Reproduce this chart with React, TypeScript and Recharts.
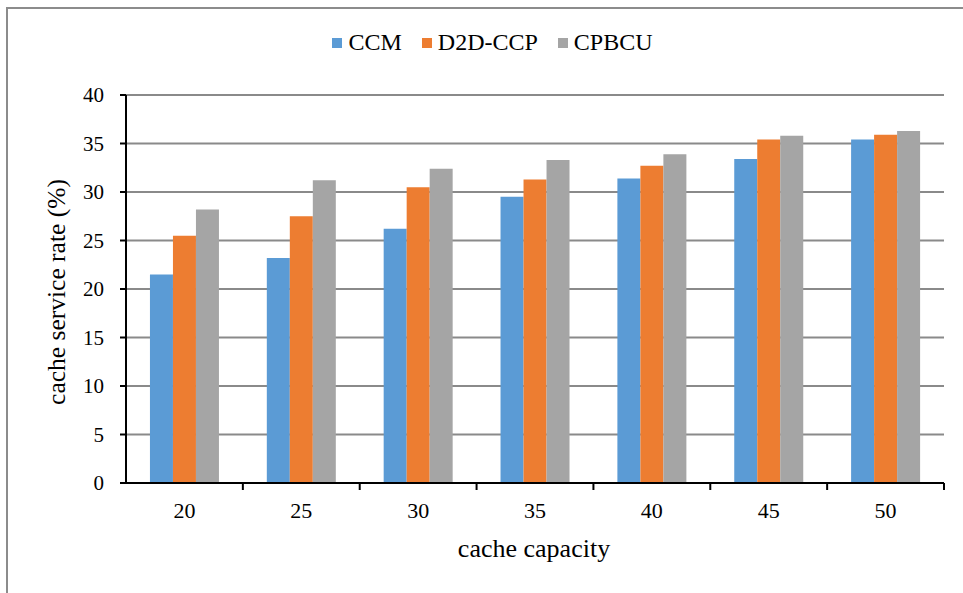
import React from "react";
import { BarChart, Bar, XAxis, YAxis, CartesianGrid, Legend } from "recharts";

const capacities = ["20", "25", "30", "35", "40", "45", "50"];
const ccm = [21.5, 23.2, 26.2, 29.5, 31.4, 33.4, 35.4];
const d2dccp = [25.5, 27.5, 30.5, 31.3, 32.7, 35.4, 35.9];
const cpbcu = [28.2, 31.2, 32.4, 33.3, 33.9, 35.8, 36.3];
const yTicks = [0, 5, 10, 15, 20, 25, 30, 35, 40];

const seriesNames = ["CCM", "D2D-CCP", "CPBCU"];
const colors = ["#5B9BD5", "#ED7D31", "#A5A5A5"];

const data = capacities.map((c, i) => ({
  cap: c,
  CCM: ccm[i],
  "D2D-CCP": d2dccp[i],
  CPBCU: cpbcu[i],
}));

const W = 963;
const H = 593;
const M = { top: 70, right: 19, bottom: 50, left: 66 };
const Y_W = 60;
const X_H = 60;
const FONT = "'Liberation Serif', 'Times New Roman', serif";
const plotW = W - M.left - Y_W - M.right;
const half = plotW / capacities.length / 2;
const axisY = H - M.bottom - X_H;

const XTick = (props: any) => {
  const { x, index, payload } = props;
  const last = index === capacities.length - 1;
  return (
    <g>
      {index > 0 && (
        <line x1={x - half} x2={x - half} y1={axisY} y2={axisY + 7} stroke="#000" strokeWidth={2} />
      )}
      {last && (
        <line x1={x + half} x2={x + half} y1={axisY} y2={axisY + 7} stroke="#000" strokeWidth={2} />
      )}
      <text x={x} y={axisY + 35} textAnchor="middle" fontSize={22} fontFamily={FONT} fill="#000">
        {payload.value}
      </text>
    </g>
  );
};

const YTick = (props: any) => {
  const { y, payload } = props;
  return (
    <text x={104} y={y} dy={7} textAnchor="end" fontSize={21} fontFamily={FONT} fill="#000">
      {payload.value}
    </text>
  );
};

const LegendContent = () => (
  <div
    style={{
      display: "flex",
      justifyContent: "center",
      alignItems: "center",
      paddingLeft: 22,
      fontFamily: FONT,
      fontSize: 24,
      lineHeight: "25px",
      color: "#000",
    }}
  >
    {seriesNames.map((n, i) => (
      <div key={n} style={{ display: "flex", alignItems: "center", marginRight: i < 2 ? 20 : 0 }}>
        <span style={{ width: 10, height: 10, background: colors[i], display: "inline-block", marginRight: 6 }} />
        <span>{n}</span>
      </div>
    ))}
  </div>
);

export default function App() {
  return (
    <div style={{ position: "absolute", left: 0, top: 0, width: W, height: H, background: "#fff" }}>
      <div style={{ position: "absolute", left: 6, top: 7, width: 2, height: H - 7, background: "#8c8c8c" }} />
      <div style={{ position: "absolute", left: 6, top: 7, width: W - 6, height: 2, background: "#8c8c8c" }} />
      <BarChart
        width={W}
        height={H}
        data={data}
        margin={M}
        barCategoryGap="20.5%"
        barGap={0}
        style={{ position: "absolute", left: 0, top: 0 }}
      >
        <CartesianGrid vertical={false} stroke="#8a8a8a" strokeWidth={2} />
        <XAxis
          dataKey="cap"
          height={X_H}
          axisLine={{ stroke: "#000", strokeWidth: 2 }}
          tickLine={false}
          tick={<XTick />}
          interval={0}
          label={{
            value: "cache capacity",
            position: "insideBottom",
            offset: 0,
            content: () => (
              <text x={534} y={557} textAnchor="middle" fontSize={26} fontFamily={FONT} fill="#000">
                cache capacity
              </text>
            ),
          }}
        />
        <YAxis
          width={Y_W}
          domain={[0, 40]}
          ticks={yTicks}
          interval={0}
          axisLine={{ stroke: "#000", strokeWidth: 2 }}
          tickLine={{ stroke: "#000", strokeWidth: 2 }}
          tickSize={6}
          tick={<YTick />}
          label={{
            value: "cache service rate (%)",
            position: "insideLeft",
            content: () => (
              <text
                x={65}
                y={292}
                transform="rotate(-90 65 292)"
                textAnchor="middle"
                fontSize={25.5}
                fontFamily={FONT}
                fill="#000"
              >
                cache service rate (%)
              </text>
            ),
          }}
        />
        <Legend
          verticalAlign="top"
          content={<LegendContent />}
          wrapperStyle={{ top: 30, left: 0, width: W, height: 25 }}
        />
        {seriesNames.map((n, i) => (
          <Bar key={n} dataKey={n} fill={colors[i]} isAnimationActive={false} />
        ))}
      </BarChart>
    </div>
  );
}
